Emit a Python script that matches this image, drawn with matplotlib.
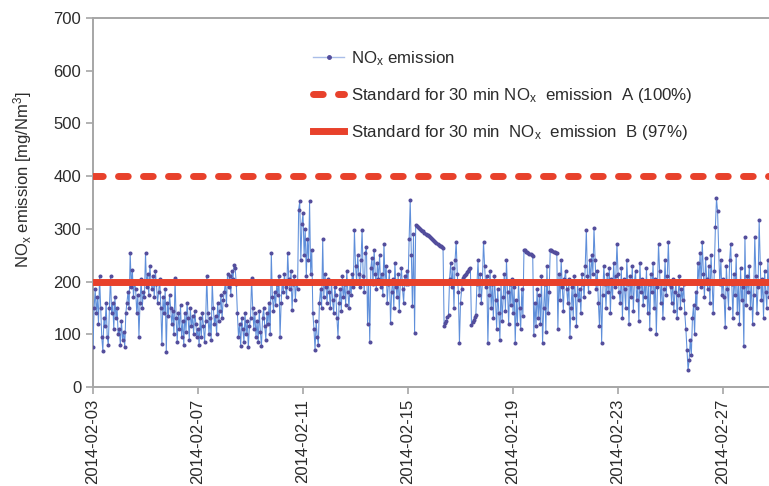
import numpy as np
import matplotlib
matplotlib.use("Agg")
import matplotlib.pyplot as plt
import matplotlib.dates as mdates
import pandas as pd
from matplotlib.lines import Line2D

plt.rcParams['font.family'] = ['Liberation Sans', 'DejaVu Sans']
plt.rcParams['mathtext.default'] = 'regular'

# hourly NOx emission readings, one list per day starting 2014-02-03
d00 = [75, 150, 185, 140, 170, 120, 210, 150, 95, 68, 130, 115, 160, 95, 80, 150, 210, 140, 160, 110, 170, 130, 150, 100]
d01 = [110, 80, 125, 90, 105, 75, 140, 160, 180, 150, 255, 190, 222, 170, 200, 185, 140, 175, 95, 160, 205, 150, 180, 170]
d02 = [255, 190, 215, 175, 230, 200, 185, 210, 170, 220, 195, 160, 180, 205, 150, 81, 170, 140, 185, 66, 160, 135, 175, 150]
d03 = [120, 145, 100, 206, 130, 85, 140, 110, 155, 95, 125, 80, 140, 105, 160, 130, 90, 150, 115, 135, 100, 145, 120, 95]
d04 = [110, 80, 130, 95, 140, 115, 85, 125, 210, 140, 100, 130, 90, 200, 150, 120, 135, 100, 160, 125, 145, 175, 130, 165]
d05 = [180, 200, 155, 215, 190, 210, 175, 220, 205, 232, 225, 195, 140, 95, 120, 77, 130, 110, 85, 140, 100, 125, 75, 115]
d06 = [130, 206, 150, 110, 140, 95, 125, 85, 145, 105, 77, 130, 150, 115, 90, 140, 120, 160, 100, 255, 170, 145, 180, 155]
d07 = [195, 175, 210, 95, 160, 200, 180, 215, 190, 170, 255, 205, 185, 220, 146, 195, 210, 165, 200, 185, 336, 352, 240, 310]
d08 = [330, 250, 300, 210, 280, 240, 352, 215, 260, 140, 110, 70, 125, 95, 80, 160, 185, 150, 280, 170, 215, 190, 160, 205]
d09 = [180, 150, 200, 165, 140, 190, 175, 130, 95, 160, 185, 145, 210, 170, 195, 155, 220, 180, 150, 200, 175, 215, 190, 298]
d10 = [230, 200, 250, 215, 190, 240, 298, 210, 180, 255, 266, 120, 200, 86, 225, 245, 195, 260, 215, 185, 235, 205, 250, 190]
d11 = [215, 175, 272, 200, 230, 160, 195, 220, 121, 180, 205, 150, 235, 190, 170, 215, 145, 200, 225, 185, 160, 210, 195, 220]
d12 = [195, 280, 354, 250, 154, 290, 102, 307, 305, 303, 302, 300, 298, 296, 295, 293, 291, 289, 288, 286, 284, 282, 281, 279]
d13 = [277, 275, 274, 272, 270, 268, 267, 265, 263, 116, 121, 126, 132, 137, 205, 235, 190, 225, 150, 240, 276, 215, 180, 83]
d14 = [160, 185, 207, 210, 212, 215, 218, 220, 223, 226, 118, 123, 128, 132, 137, 195, 240, 175, 215, 160, 200, 276, 230, 190]
d15 = [210, 83, 175, 220, 150, 195, 130, 210, 165, 110, 185, 140, 90, 200, 125, 170, 215, 145, 241, 180, 120, 195, 155, 205]
d16 = [140, 190, 83, 165, 120, 200, 150, 110, 185, 135, 260, 259, 257, 256, 255, 253, 252, 250, 249, 99, 160, 115, 185, 130]
d17 = [175, 120, 210, 83, 150, 195, 105, 230, 140, 180, 260, 259, 258, 257, 256, 255, 254, 110, 215, 165, 240, 190, 145, 205]
d18 = [220, 185, 160, 205, 95, 150, 190, 130, 210, 175, 115, 200, 165, 185, 140, 215, 195, 170, 230, 298, 210, 180, 240, 200]
d19 = [250, 215, 301, 240, 185, 220, 160, 116, 200, 83, 175, 230, 195, 150, 215, 180, 225, 140, 205, 170, 235, 190, 210, 272]
d20 = [215, 180, 160, 225, 130, 205, 185, 150, 240, 195, 120, 210, 170, 230, 145, 200, 220, 165, 190, 125, 235, 180, 205, 155]
d21 = [200, 170, 225, 140, 195, 110, 215, 180, 235, 150, 205, 100, 190, 272, 220, 160, 200, 130, 185, 240, 175, 210, 276, 195]
d22 = [190, 160, 205, 145, 180, 200, 130, 175, 210, 150, 185, 165, 195, 140, 110, 70, 32, 51, 90, 60, 130, 155, 100, 180]
d23 = [150, 235, 200, 255, 190, 276, 215, 170, 245, 205, 185, 230, 160, 250, 200, 140, 220, 304, 358, 333, 260, 195, 240, 175]
d24 = [205, 170, 114, 230, 185, 150, 240, 272, 195, 130, 215, 175, 250, 140, 200, 120, 225, 165, 190, 77, 285, 155, 210, 180]
d25 = [230, 150, 200, 120, 175, 285, 210, 140, 190, 317, 235, 165, 205, 130, 220, 180, 150, 240, 170, 200, 135, 215, 185, 160]

days = [d00, d01, d02, d03, d04, d05, d06, d07, d08, d09, d10, d11, d12,
        d13, d14, d15, d16, d17, d18, d19, d20, d21, d22, d23, d24, d25]
nox = [v for day in days for v in day]
start_time = "2014-02-03 00:00"
times = pd.date_range(start_time, periods=len(nox), freq="h")

standard_a = 400
standard_b = 200
y_ticks = [0, 100, 200, 300, 400, 500, 600, 700]
x_tick_dates = ["2014-02-03", "2014-02-07", "2014-02-11", "2014-02-15",
                "2014-02-19", "2014-02-23", "2014-02-27"]

label_nox = r'NO$_\mathregular{x}$ emission'
label_a = r'Standard for 30 min NO$_\mathregular{x}$  emission  A (100%)'
label_b = r'Standard for 30 min  NO$_\mathregular{x}$  emission  B (97%)'
y_label = r'NO$_\mathregular{x}$ emission [mg/Nm$^\mathregular{3}$]'

red = '#e8412b'
text_col = '#2b2b2b'
spine_col = '#a6a6a6'
line_col = '#5f8fda'
mark_col = '#534d9c'

fig = plt.figure(figsize=(7.69, 4.86), dpi=100)
ax = fig.add_axes([93 / 769, 1 - 387 / 486, 1 - 93 / 769, (387 - 18) / 486])

ax.plot(times, nox, color=line_col, lw=0.75, marker='o', ms=1.9,
        mfc=mark_col, mec=mark_col, zorder=3)
ax.axhline(standard_a, color=red, lw=5, dashes=(1.4, 2.2), dash_capstyle='round', zorder=4)
ax.axhline(standard_b, color=red, lw=5, zorder=4)

ax.set_ylim(0, 700)
ax.set_yticks(y_ticks)
ax.set_xlim(pd.Timestamp("2014-02-03 00:00"), pd.Timestamp("2014-02-28 18:00"))
ax.set_xticks(pd.to_datetime(x_tick_dates))
ax.xaxis.set_major_formatter(mdates.DateFormatter('%Y-%m-%d'))
for lab in ax.get_xticklabels():
    lab.set_rotation(90)

ax.tick_params(axis='both', colors=spine_col, labelcolor=text_col, labelsize=12,
               length=5, width=1.2, direction='out')
ax.spines['right'].set_visible(False)
for s in ['left', 'bottom', 'top']:
    ax.spines[s].set_color(spine_col)
    ax.spines[s].set_linewidth(1.4)

fig.text(23 / 769, 1 - 180 / 486, y_label, rotation=90, va='center', ha='center',
         fontsize=12, color=text_col)

handles = [
    Line2D([], [], color='#a9bde8', lw=1.0, marker='o', ms=2.5, mfc=mark_col,
           mec=mark_col, markevery=[1]),
    Line2D([], [], color=red, lw=5, dashes=(1.4, 2.2), dash_capstyle='round'),
    Line2D([], [], color=red, lw=5),
]
ax.legend(handles, [label_nox, label_a, label_b], loc='upper left',
          bbox_to_anchor=(298 / 769, 1 - 34 / 486), bbox_transform=fig.transFigure,
          frameon=False, fontsize=12.2, labelspacing=1.05, handlelength=1.8,
          handletextpad=0.4, labelcolor=text_col)

fig.savefig("out.png", dpi=100)
